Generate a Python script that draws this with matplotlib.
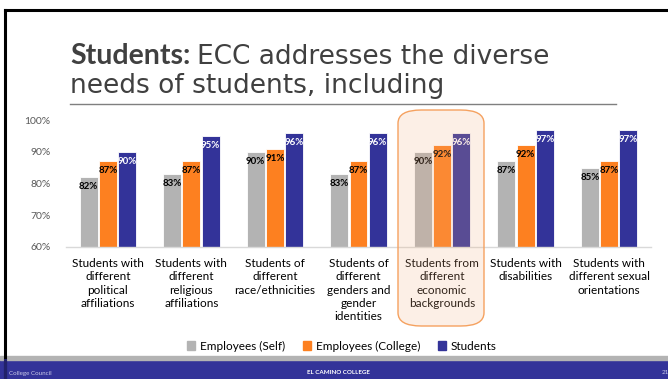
import matplotlib.pyplot as plt
from matplotlib.patches import FancyBboxPatch, Rectangle
from matplotlib.lines import Line2D
import numpy as np

# survey results (% agree) for each group of students
categories = [
    "Students with\ndifferent\npolitical\naffiliations",
    "Students with\ndifferent\nreligious\naffiliations",
    "Students of\ndifferent\nrace/ethnicities",
    "Students of\ndifferent\ngenders and\ngender\nidentities",
    "Students from\ndifferent\neconomic\nbackgrounds",
    "Students with\ndisabilities",
    "Students with\ndifferent sexual\norientations",
]
employees_self = [82, 83, 90, 83, 90, 87, 85]
employees_college = [87, 87, 91, 87, 92, 92, 87]
students = [90, 95, 96, 96, 96, 97, 97]
series_names = ["Employees (Self)", "Employees (College)", "Students"]
series_colors = ["#b3b3b3", "#fd8020", "#333399"]
label_colors = ["black", "black", "white"]

W, H = 668, 379
plt.rcParams['font.family'] = ['Lato', 'DejaVu Sans']
fig = plt.figure(figsize=(W / 100, H / 100), dpi=100)


def px(x, y):
    # pixel coords (from top-left) to figure fraction
    return x / W, 1 - y / H


# slide frame
fig.add_artist(Line2D([5 / W, 1], [1 - 10 / H] * 2, color="black", lw=2.2, transform=fig.transFigure))
fig.add_artist(Line2D([5 / W] * 2, [0, 1 - 10 / H], color="black", lw=2.2, transform=fig.transFigure))

# title
renderer = fig.canvas.get_renderer()
tx, ty = px(70, 64)
t1 = fig.text(tx, ty, "Students:", fontsize=20.5, fontweight="bold", color="#404040", va="baseline")
bb = t1.get_window_extent(renderer)
fig.text(bb.x1 / W + 7 / W, ty, "ECC addresses the diverse", fontsize=19, color="#404040",
         va="baseline", family="DejaVu Sans")
fig.text(tx, 1 - 93 / H, "needs of students, including", fontsize=19, color="#404040",
         va="baseline", family="DejaVu Sans")
fig.add_artist(Line2D([70 / W, 616 / W], [1 - 104 / H] * 2, color="#7f7f7f", lw=1,
                      transform=fig.transFigure))

# chart area
left, top, right, bottom = 66, 120, 651, 247
ax = fig.add_axes([left / W, 1 - bottom / H, (right - left) / W, (bottom - top) / H])
x = np.arange(len(categories))
width = 0.215
offsets = [-0.23, 0, 0.23]
for vals, off, col, lc in zip([employees_self, employees_college, students], offsets,
                              series_colors, label_colors):
    ax.bar(x + off, vals, width, bottom=0, color=col, edgecolor="white", linewidth=0.6, zorder=2)
    for xi, v in zip(x, vals):
        ax.text(xi + off, v - 3.0, f"{v}%", ha="center", va="center", fontsize=7,
                fontweight="bold", color=lc, zorder=3)

ax.set_ylim(60, 100)
ax.set_xlim(-0.5, len(categories) - 0.5)
ax.set_yticks([60, 70, 80, 90, 100])
ax.set_yticklabels([f"{v}%" for v in [60, 70, 80, 90, 100]])
ax.set_xticks(x)
ax.set_xticklabels(categories, linespacing=1.25)
ax.tick_params(axis="y", length=0, pad=11, labelsize=7.5, labelcolor="#595959")
ax.tick_params(axis="x", length=0, pad=8, labelsize=8.5, labelcolor="black")
for s in ["top", "right", "left"]:
    ax.spines[s].set_visible(False)
ax.spines["bottom"].set_color("#d9d9d9")
ax.spines["bottom"].set_linewidth(1)

# highlight box around the economic backgrounds group
bx0, by0, bx1, by1 = 398, 110, 484, 326
box = FancyBboxPatch((bx0 / W, 1 - by1 / H), (bx1 - bx0) / W, (by1 - by0) / H,
                     boxstyle="round,pad=0,rounding_size=0.035", transform=fig.transFigure,
                     facecolor=(0.957, 0.694, 0.514, 0.2), edgecolor="#f5a15f", lw=1, zorder=5)
fig.add_artist(box)

# legend
handles = [Rectangle((0, 0), 1, 1, color=c) for c in series_colors]
fig.legend(handles, series_names, loc="center", bbox_to_anchor=px(342, 346), ncol=3,
           frameon=False, fontsize=8.5, handlelength=0.7, handleheight=0.7,
           handletextpad=0.4, columnspacing=1.5)

# footer band
fig.add_artist(Rectangle((0, 0), 1, 19 / H, transform=fig.transFigure, color="#333399"))
fig.add_artist(Rectangle((0, 19 / H), 1, 4 / H, transform=fig.transFigure, color="#b3b3b3"))
fig.add_artist(Line2D([5 / W] * 2, [0, 19 / H], color="#22226a", lw=2.2, transform=fig.transFigure))
fig.text(9 / W, 1 - 374 / H, "College Council", fontsize=4.5, color="#c8c8e8", va="center")
fig.text(338 / W, 1 - 373 / H, "EL CAMINO COLLEGE", fontsize=4.5, fontweight="bold",
         color="white", va="center", ha="center")
fig.text(662 / W, 1 - 373 / H, "21", fontsize=4.5, color="#c8c8e8", va="center")

fig.savefig("out.png", dpi=100)
